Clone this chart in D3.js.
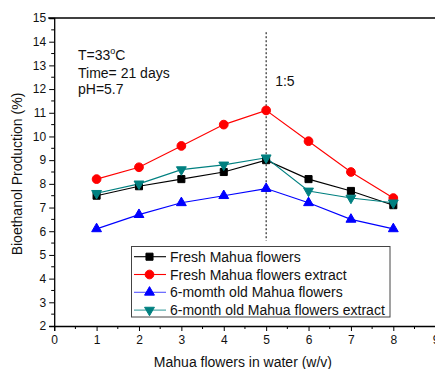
<!DOCTYPE html>
<html>
<head>
<meta charset="utf-8">
<script src="https://cdn.jsdelivr.net/npm/d3@7"></script>
<style>
  html, body { margin: 0; padding: 0; background: #fff; }
  svg { display: block; font-family: "Liberation Sans", Arial, sans-serif; }
</style>
</head>
<body>
<svg id="chart" width="435" height="369"></svg>
<script>
// Mahua flower to water ratio (w/v)
const ratios = [1, 2, 3, 4, 5, 6, 7, 8];

// Bioethanol production (%) for each feedstock
const freshFlowers        = [7.5, 7.9, 8.2, 8.5, 9.0, 8.2, 7.7, 7.1];
const freshExtract        = [8.2, 8.7, 9.6, 10.5, 11.1, 9.8, 8.5, 7.4];
const oldFlowers          = [6.1, 6.7, 7.2, 7.5, 7.8, 7.2, 6.5, 6.1];
const oldExtract          = [7.6, 8.0, 8.6, 8.8, 9.1, 7.7, 7.4, 7.2];

const seriesNames = [
  "Fresh Mahua flowers",
  "Fresh Mahua flowers extract",
  "6-momth old Mahua flowers",
  "6-month old Mahua flowers extract"
];

const xTicks = [0, 1, 2, 3, 4, 5, 6, 7, 8, 9];
const yTicks = [2, 3, 4, 5, 6, 7, 8, 9, 10, 11, 12, 13, 14, 15];

// Optimum ratio marker (1:5) and its vertical extent in y units
const optimumRatio = 5;
const optimumSpan = [5.6, 14.4];

const conditions = ["T=33", "Time= 21 days", "pH=5.7"];

const series = [
  { name: seriesNames[0], values: freshFlowers, color: "#000000", legendLine: "#000000", symbol: d3.symbolSquare, size: 50, rotate: 0 },
  { name: seriesNames[1], values: freshExtract, color: "#ff0000", legendLine: "#ff0000", symbol: d3.symbolCircle, size: 60, rotate: 0 },
  { name: seriesNames[2], values: oldFlowers,   color: "#0000ff", legendLine: "#5555ff", symbol: d3.symbolTriangle, size: 42, rotate: 0 },
  { name: seriesNames[3], values: oldExtract,   color: "#008080", legendLine: "#40a0a0", symbol: d3.symbolTriangle, size: 42, rotate: 180 }
];

const svg = d3.select("#chart");

const x = d3.scaleLinear().domain([0, 9]).range([54.2, 435.7]);
const y = d3.scaleLinear().domain([2, 15]).range([326, 18]);

// Axes
const xAxis = svg.append("g").attr("transform", `translate(0,${y(2)})`)
  .call(d3.axisBottom(x).tickValues(xTicks).tickFormat(d3.format("d")).tickSize(5).tickPadding(4));
const yAxis = svg.append("g").attr("transform", `translate(${x(0)},0)`)
  .call(d3.axisLeft(y).tickValues(yTicks).tickFormat(d3.format("d")).tickSize(5).tickPadding(3));

[xAxis, yAxis].forEach(g => {
  g.select(".domain").attr("stroke", "#000").attr("stroke-width", 1.3);
  g.selectAll(".tick line").attr("stroke", "#000");
  g.selectAll(".tick text").attr("fill", "#111").style("font-size", "12px")
    .style("font-family", '"Liberation Sans", Arial, sans-serif');
});

// Minor ticks
const xMinor = d3.range(0.5, 9, 1);
const yMinor = d3.range(2.5, 15, 1);
svg.append("g").selectAll("line").data(xMinor).join("line")
  .attr("x1", d => x(d)).attr("x2", d => x(d))
  .attr("y1", y(2)).attr("y2", y(2) + 3).attr("stroke", "#000");
svg.append("g").selectAll("line").data(yMinor).join("line")
  .attr("x1", x(0)).attr("x2", x(0) - 3)
  .attr("y1", d => y(d)).attr("y2", d => y(d)).attr("stroke", "#000");

// Top frame line
svg.append("line")
  .attr("x1", x(0) - 6).attr("x2", x(9))
  .attr("y1", y(15)).attr("y2", y(15))
  .attr("stroke", "#000").attr("stroke-width", 1.3);

// Axis titles
svg.append("text")
  .attr("x", (x(0) + x(9)) / 2 - 2).attr("y", 367)
  .attr("text-anchor", "middle").style("font-size", "14px").attr("fill", "#111")
  .text("Mahua flowers in water (w/v)");
svg.append("text")
  .attr("transform", `translate(22,${y(8.5) + 2}) rotate(-90)`)
  .attr("text-anchor", "middle").style("font-size", "14px").attr("fill", "#111")
  .text("Bioethanol Production (%)");

// Optimum ratio guide
svg.append("line")
  .attr("x1", x(optimumRatio)).attr("x2", x(optimumRatio))
  .attr("y1", y(optimumSpan[1])).attr("y2", y(optimumSpan[0]))
  .attr("stroke", "#000").attr("stroke-dasharray", "2,2");
svg.append("text")
  .attr("x", x(optimumRatio) + 9).attr("y", 86)
  .style("font-size", "14px").attr("fill", "#111").text("1:5");

// Fermentation conditions
const cond = svg.append("text").attr("x", 78).attr("y", 60)
  .style("font-size", "14px").attr("fill", "#111");
cond.append("tspan").text(conditions[0]);
cond.append("tspan").attr("dy", -6).style("font-size", "9px").text("o");
cond.append("tspan").attr("dy", 6).text("C");
svg.append("text").attr("x", 78).attr("y", 77.5).style("font-size", "14px").attr("fill", "#111").text(conditions[1]);
svg.append("text").attr("x", 78).attr("y", 94).style("font-size", "14px").attr("fill", "#111").text(conditions[2]);

// Series lines and markers
const line = d3.line().x((d, i) => x(ratios[i])).y(d => y(d));
series.forEach(s => {
  svg.append("path").datum(s.values)
    .attr("d", line).attr("fill", "none")
    .attr("stroke", s.color).attr("stroke-width", 1.1);
});
series.forEach(s => {
  const sym = d3.symbol().type(s.symbol).size(s.size);
  svg.append("g").selectAll("path").data(s.values).join("path")
    .attr("d", sym)
    .attr("transform", (d, i) => `translate(${x(ratios[i])},${y(d)}) rotate(${s.rotate})`)
    .attr("fill", s.color).attr("stroke", s.color).attr("stroke-width", 1);
});

// Legend
const legend = svg.append("g");
legend.append("rect")
  .attr("x", 131.5).attr("y", 246.5).attr("width", 258.5).attr("height", 70.5)
  .attr("fill", "#fff").attr("stroke", "#444").attr("stroke-width", 1);
series.forEach((s, i) => {
  const cy = 256.7 + i * 17.8;
  legend.append("line")
    .attr("x1", 134).attr("x2", 166).attr("y1", cy).attr("y2", cy)
    .attr("stroke", s.legendLine).attr("stroke-width", 1.1);
  legend.append("path")
    .attr("d", d3.symbol().type(s.symbol).size(s.size))
    .attr("transform", `translate(149.5,${cy}) rotate(${s.rotate})`)
    .attr("fill", s.color).attr("stroke", s.color);
  legend.append("text")
    .attr("x", 170).attr("y", cy + 5)
    .style("font-size", "14px").attr("fill", "#111").text(s.name);
});
</script>
</body>
</html>
